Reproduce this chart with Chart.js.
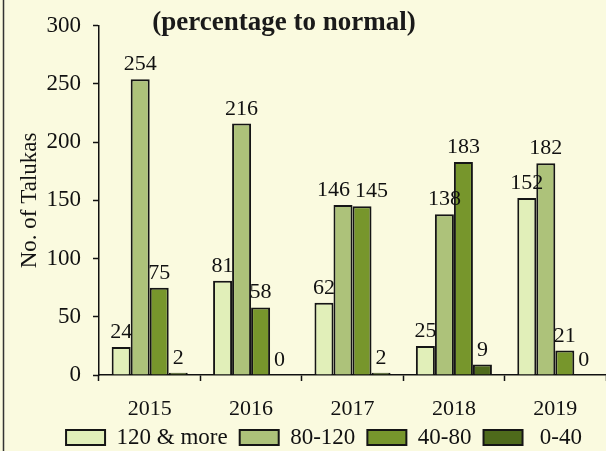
<!DOCTYPE html>
<html>
<head>
<meta charset="utf-8">
<script src="https://cdn.jsdelivr.net/npm/chart.js@4"></script>
<style>
  html, body { margin: 0; padding: 0; background: #fafadf; }
  #wrap { width: 606px; height: 451px; }
</style>
</head>
<body>
<div id="wrap"><canvas id="chart" width="606" height="451"></canvas></div>
<script>
var years = ["2015", "2016", "2017", "2018", "2019"];
var above120 = [24, 81, 62, 25, 152];
var from80to120 = [254, 216, 146, 138, 182];
var from40to80 = [75, 58, 145, 183, 21];
var below40 = [2, 0, 2, 9, 0];
var seriesNames = ["120 & more", "80-120", "40-80", " 0-40"];
var yTicks = [0, 50, 100, 150, 200, 250, 300];

var SERIF = "'Liberation Serif', 'Times New Roman', serif";

// background, left frame line and the title
var decor = {
  id: "decor",
  beforeDraw: function(chart) {
    var ctx = chart.ctx;
    ctx.save();
    ctx.fillStyle = "#fafadf";
    ctx.fillRect(0, 0, chart.width, chart.height);
    ctx.strokeStyle = "#333";
    ctx.lineWidth = 1.5;
    ctx.beginPath();
    ctx.moveTo(3.5, 0);
    ctx.lineTo(3.5, chart.height);
    ctx.stroke();
    ctx.restore();
  },
  afterDraw: function(chart) {
    var ctx = chart.ctx;
    ctx.save();
    ctx.fillStyle = "#1a1a1a";
    ctx.font = "bold 27px " + SERIF;
    ctx.textAlign = "center";
    ctx.textBaseline = "alphabetic";
    ctx.fillText("(percentage to normal)", 284, 30);
    ctx.restore();
  }
};

// value labels over each bar, pushed apart when two at the same height collide
var valueLabels = {
  id: "valueLabels",
  afterDatasetsDraw: function(chart) {
    var ctx = chart.ctx;
    ctx.save();
    ctx.fillStyle = "#111";
    ctx.font = "22px " + SERIF;
    ctx.textAlign = "center";
    ctx.textBaseline = "alphabetic";
    var n = chart.data.labels.length;
    for (var j = 0; j < n; j++) {
      var items = [];
      chart.data.datasets.forEach(function(ds, i) {
        var bar = chart.getDatasetMeta(i).data[j];
        var txt = String(ds.data[j]);
        items.push({ txt: txt, x: bar.x, y: bar.y - 9, w: ctx.measureText(txt).width });
      });
      for (var k = 1; k < items.length; k++) {
        var a = items[k - 1], b = items[k];
        if (Math.abs(a.y - b.y) < 18) {
          var overlap = (a.x + a.w / 2 + 5) - (b.x - b.w / 2);
          if (overlap > 0) {
            a.x -= overlap / 2;
            b.x += overlap / 2;
          }
        }
      }
      items.forEach(function(it) { ctx.fillText(it.txt, it.x, it.y); });
    }
    ctx.restore();
  }
};

// move the legend to where the reference has it
var legendShift = {
  id: "legendShift",
  afterLayout: function(chart) {
    var lg = chart.legend;
    var dx = 21;
    var dy = 437.5 - (lg.top + 12 + 11.5);
    lg.left += dx; lg.right += dx;
    lg.top += dy; lg.bottom += dy;
  }
};

var colors = ["#e1efb9", "#adc27a", "#77962c", "#4e6a1b"];
var seriesData = [above120, from80to120, from40to80, below40];

var datasets = seriesData.map(function(d, i) {
  return {
    label: seriesNames[i],
    data: d,
    backgroundColor: colors[i],
    borderColor: "#151515",
    borderWidth: 2,
    borderSkipped: "bottom"
  };
});

new Chart(document.getElementById("chart").getContext("2d"), {
  type: "bar",
  data: { labels: years, datasets: datasets },
  plugins: [decor, valueLabels, legendShift],
  options: {
    responsive: false,
    animation: false,
    devicePixelRatio: 1,
    layout: { padding: { top: 25, left: 0, right: 0, bottom: -29 } },
    datasets: { bar: { categoryPercentage: 0.75, barPercentage: 1 } },
    plugins: {
      tooltip: { enabled: false },
      title: { display: false },
      legend: {
        position: "bottom",
        labels: {
          color: "#111",
          font: { family: SERIF, size: 23 },
          boxWidth: 39,
          boxHeight: 15,
          padding: 12
        }
      }
    },
    scales: {
      x: {
        afterFit: function(scale) { scale.height = 60; },
        grid: {
          display: true,
          offset: true,
          drawOnChartArea: false,
          tickLength: 6,
          tickWidth: 1.5,
          tickColor: "#111"
        },
        border: { color: "#111", width: 1.5 },
        ticks: { color: "#111", font: { family: SERIF, size: 22 }, padding: 15 }
      },
      y: {
        min: 0,
        max: 300,
        afterFit: function(scale) { scale.width = 99; },
        afterBuildTicks: function(scale) {
          scale.ticks = yTicks.map(function(v) { return { value: v }; });
        },
        grid: {
          display: true,
          drawOnChartArea: false,
          tickLength: 6,
          tickWidth: 1.5,
          tickColor: "#111"
        },
        border: { color: "#111", width: 1.5 },
        ticks: { color: "#111", font: { family: SERIF, size: 23 }, padding: 12 },
        title: {
          display: true,
          text: "No. of Talukas",
          color: "#111",
          font: { family: SERIF, size: 23 },
          padding: { top: 16, bottom: 0 }
        }
      }
    }
  }
});
</script>
</body>
</html>
